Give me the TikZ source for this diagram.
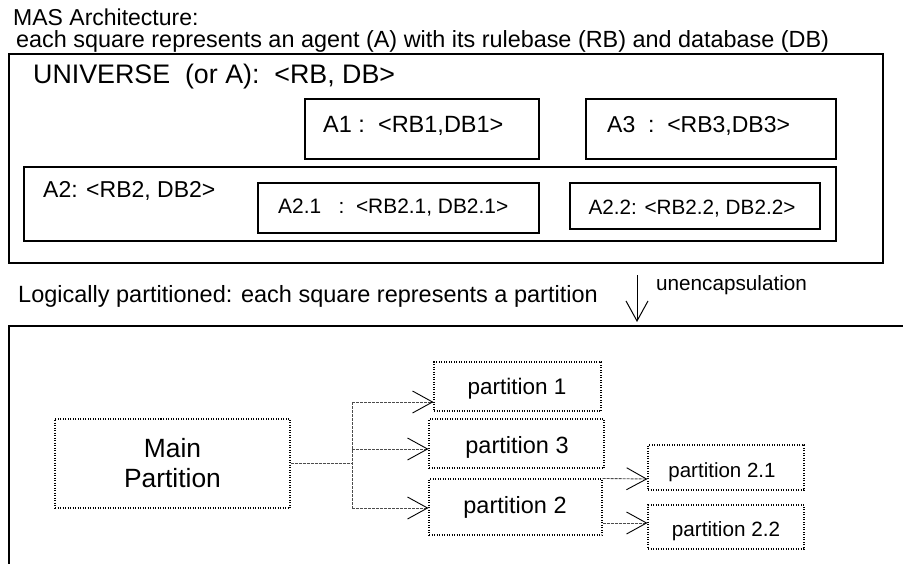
\documentclass[tikz,border=0pt]{standalone}
\usepackage{fontspec}
\setmainfont{Liberation Sans}
\usetikzlibrary{arrows.meta}
\newcommand{\myfs}[1]{\fontsize{#1}{#1}\selectfont}
\tikzset{
  sbox/.style={draw, line width=1.3pt, inner sep=0pt},
  ubox/.style={draw, line width=1.7pt, inner sep=0pt},
  dbox/.style={draw, line width=1.1pt, dash pattern=on 1pt off 1.5pt, inner sep=0pt},
  txt/.style={inner sep=0pt},
  conn/.style={draw=black!70, line width=0.9pt, dash pattern=on 3pt off 1pt},
  barb/.style={-{Straight Barb[length=20pt,width=22pt,line width=0.9pt,color=black]}}
}
\begin{document}
\begin{tikzpicture}[x=1pt,y=-1pt]
\useasboundingbox[fill=white] (0,0) rectangle (903,563);

% header texts
\node[txt, font=\myfs{23}, anchor=base west] (mas) at (13,25) {MAS Architecture:};
\node[txt, font=\myfs{23.4}, anchor=base west] (each) at (16,47) {each square represents an agent (A) with its rulebase (RB) and database (DB)};

% agent boxes
\node[ubox, minimum width=874pt, minimum height=209pt] (univ) at (446,158.5) {};
\node[txt, font=\myfs{26.8}, anchor=base west] (univt) at (33,83) {UNIVERSE\ \ (or A):\ \ <RB, DB>};

\node[sbox, minimum width=234pt, minimum height=60pt] (a1) at (422,129) {};
\node[txt, font=\myfs{23.5}, anchor=base west] (a1t) at (323,132) {A1 :\ \ <RB1,DB1>};

\node[sbox, minimum width=250pt, minimum height=60pt] (a3) at (711,129) {};
\node[txt, font=\myfs{23}, anchor=base west] (a3t) at (607,132) {A3\ \ :\ \ <RB3,DB3>};

\node[sbox, minimum width=812pt, minimum height=74pt] (a2) at (430,204) {};
\node[txt, font=\myfs{23}, anchor=base west] (a2t) at (43,197) {A2: <RB2, DB2>};

\node[sbox, minimum width=281pt, minimum height=50pt] (a21) at (398.5,208) {};
\node[txt, font=\myfs{20.9}, anchor=base west] (a21t) at (278,213) {A2.1\ \ \ :\ \ <RB2.1, DB2.1>};

\node[sbox, minimum width=250pt, minimum height=46pt] (a22) at (695,206) {};
\node[txt, font=\myfs{20.7}, anchor=base] (a22t) at (692,214) {A2.2: <RB2.2, DB2.2>};

% unencapsulation
\coordinate (u1) at (637,275);
\coordinate (u2) at (637,322);
\draw[line width=1pt, -{Straight Barb[length=20pt,width=22pt,line width=1pt]}] (u1) -- (u2);
\node[txt, font=\myfs{20.7}, anchor=base west] (unenc) at (656,290) {unencapsulation};

\node[txt, font=\myfs{23.5}, anchor=base west] (logic) at (18,302) {Logically partitioned: each square represents a partition};

% partition frame (open at bottom/right)
\draw[line width=1.7pt] (9,563.5) -- (9,326) -- (903.5,326);

% partitions
\node[dbox, minimum width=235pt, minimum height=89pt] (main) at (172.5,463.5) {};
\node[txt, font=\fontsize{26.4}{30}\selectfont, align=center] (maint) at (172.5,463) {Main\\Partition};

\node[dbox, minimum width=167pt, minimum height=49pt] (p1) at (517.5,386.5) {};
\node[txt, font=\myfs{22.5}, anchor=base] (p1t) at (517,394) {partition 1};

\node[dbox, minimum width=175pt, minimum height=49pt] (p3) at (516.5,443.5) {};
\node[txt, font=\myfs{23.5}, anchor=base] (p3t) at (517,453) {partition 3};

\node[dbox, minimum width=173pt, minimum height=56pt] (p2) at (515.5,507) {};
\node[txt, font=\myfs{23.5}, anchor=base] (p2t) at (515,513) {partition 2};

\node[dbox, minimum width=156pt, minimum height=45pt] (p21) at (726,467.5) {};
\node[txt, font=\myfs{20.5}, anchor=base] (p21t) at (722,477) {partition 2.1};

\node[dbox, minimum width=156pt, minimum height=44pt] (p22) at (726,527) {};
\node[txt, font=\myfs{20.7}, anchor=base] (p22t) at (726,536) {partition 2.2};

% connectors
\coordinate (fork) at (352,463.5);
\draw[conn] (main.east) -- (fork);
\draw[conn] ([yshift=-15.5pt]p1.west -| fork) -- ([yshift=-1pt]p2.west -| fork);
\draw[conn, barb] ([yshift=-15.5pt]p1.west -| fork) -- ([yshift=-15.5pt]p1.west);
\draw[conn, barb] ([yshift=-5.5pt]p3.west -| fork) -- ([yshift=-5.5pt]p3.west);
\draw[conn, barb] ([yshift=-1pt]p2.west -| fork) -- ([yshift=-1pt]p2.west);
\draw[conn, barb] (p2.north east) -- ([yshift=-11.5pt]p21.west);
\draw[conn, barb] ([yshift=-16pt]p2.east) -- ([yshift=4pt]p22.west);
\end{tikzpicture}
\end{document}
